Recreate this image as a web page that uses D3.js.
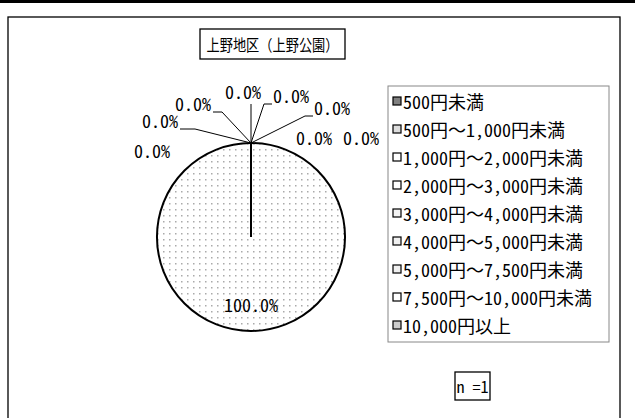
<!DOCTYPE html>
<html>
<head>
<meta charset="utf-8">
<script src="https://cdn.jsdelivr.net/npm/d3@7"></script>
<style>
  body { margin: 0; background: #fff; }
  text { font-family: 'Noto Sans Mono CJK JP', 'Noto Sans CJK JP', sans-serif; fill: #000; }
</style>
</head>
<body>
<div id="chart"></div>
<script>
var width = 635;
var height = 418;

// data
var title = '上野地区（上野公園）';
var categories = ['500円未満', '500円～1,000円未満', '1,000円～2,000円未満', '2,000円～3,000円未満',
  '3,000円～4,000円未満', '4,000円～5,000円未満', '5,000円～7,500円未満', '7,500円～10,000円未満', '10,000円以上'];
var counts = [0, 1, 0, 0, 0, 0, 0, 0, 0];
var sampleLabel = 'n =1';

// label placement around the pie (offset of label centre from pie centre, leader line or not)
var labelLayout = [
  { dx: 40, dy: -142, leader: true },
  { dx: 0, dy: 67, leader: false },
  { dx: 81, dy: -130, leader: true },
  { dx: 63, dy: -100, leader: false },
  { dx: 110, dy: -100, leader: false },
  { dx: -99, dy: -87, leader: false },
  { dx: -91, dy: -117, leader: true },
  { dx: -58, dy: -134, leader: true },
  { dx: -8, dy: -146, leader: true }
];

var cx = 251, cy = 237, radius = 94;
var labelSize = 18;
var legendSize = 18;

var svg = d3.select('#chart')
  .append('svg')
  .attr('width', width)
  .attr('height', height)

var defs = svg.append('defs');
var dots = defs.append('pattern')
  .attr('id', 'dots')
  .attr('patternUnits', 'userSpaceOnUse')
  .attr('width', 6)
  .attr('height', 6)
dots.append('rect').attr('width', 6).attr('height', 6).attr('fill', '#fff')
dots.append('rect').attr('x', 2).attr('y', 2).attr('width', 1.5).attr('height', 1.5).attr('fill', '#aaa')

var swatchFills = ['#808080', '#dddddd', '#fff', '#fff', '#f4f4f4', '#f0f0f0', '#f0f0f0', '#fff', '#cccccc'];

// top rule and outer frame
svg.append('rect')
  .attr('x', 0).attr('y', 0).attr('width', width).attr('height', 3)
  .attr('fill', '#000')

svg.append('rect')
  .attr('x', 8).attr('y', 17).attr('width', 612).attr('height', 420)
  .attr('fill', 'none')
  .attr('stroke', '#000')
  .attr('stroke-width', 1.3)

// title box
svg.append('rect')
  .attr('x', 200).attr('y', 29)
  .attr('width', 145).attr('height', 30)
  .attr('fill', '#fff')
  .attr('stroke', '#000')
  .attr('stroke-width', 1.3)

svg.append('text')
  .attr('x', 272.5)
  .attr('y', 44)
  .attr('text-anchor', 'middle')
  .attr('dominant-baseline', 'central')
  .attr('font-size', 15.5)
  .attr('textLength', 132)
  .attr('lengthAdjust', 'spacingAndGlyphs')
  .text(title)

// pie
var pie = d3.pie().sort(null).value(function (d) { return d; });
var arcs = pie(counts);
var total = d3.sum(counts);
var arc = d3.arc().innerRadius(0).outerRadius(radius);
var fmt = function (v) { return d3.format('.1f')(v / total * 100) + '%'; };

var pieG = svg.append('g').attr('transform', 'translate(' + cx + ',' + cy + ')');

pieG.selectAll('path')
  .data(arcs)
  .enter()
  .append('path')
  .attr('d', arc)
  .attr('fill', function (d) { return d.value > 0 ? 'url(#dots)' : 'none'; })
  .attr('stroke', '#000')
  .attr('stroke-width', 2)

var labels = pieG.selectAll('.pie-label')
  .data(arcs)
  .enter()
  .append('text')
  .attr('class', 'pie-label')
  .attr('x', function (d, i) { return labelLayout[i].dx; })
  .attr('y', function (d, i) { return labelLayout[i].dy; })
  .attr('text-anchor', 'middle')
  .attr('dominant-baseline', 'central')
  .attr('font-size', labelSize)
  .text(function (d) { return fmt(d.value); })

// leader lines from label to the slice edge
labels.each(function (d, i) {
  var lay = labelLayout[i];
  if (!lay.leader) return;
  var b = this.getBBox();
  var a = d.startAngle;
  var px = radius * Math.sin(a), py = -radius * Math.cos(a);
  var yy = b.y + b.height - 4;
  var pts;
  if (Math.abs(lay.dx - px) < 12) {
    pts = [[px, b.y + b.height], [px, py]];
  } else if (lay.dx > px) {
    pts = [[b.x - 1, yy], [b.x - 9, yy], [px, py]];
  } else {
    pts = [[b.x + b.width + 2, yy], [b.x + b.width + 2 + (lay.dx < -80 ? 15 : 9), yy], [px, py]];
  }
  pieG.append('path')
    .attr('d', d3.line()(pts))
    .attr('fill', 'none')
    .attr('stroke', '#000')
    .attr('stroke-width', 1)
})

// legend
var legendX = 388, legendY = 86, legendW = 221, legendH = 256;
var rowY = d3.scalePoint().domain(categories).range([101, 325]);

svg.append('rect')
  .attr('x', legendX).attr('y', legendY)
  .attr('width', legendW).attr('height', legendH)
  .attr('fill', '#fff')
  .attr('stroke', '#888')
  .attr('stroke-width', 1)

var items = svg.selectAll('.legend-item')
  .data(categories)
  .enter()
  .append('g')
  .attr('class', 'legend-item')
  .attr('transform', function (d) { return 'translate(' + (legendX + 5) + ',' + rowY(d) + ')'; })

items.append('rect')
  .attr('x', 0).attr('y', -4)
  .attr('width', 8).attr('height', 8)
  .attr('fill', function (d, i) { return swatchFills[i]; })
  .attr('stroke', '#000')
  .attr('stroke-width', 1.2)

items.append('text')
  .attr('x', 10)
  .attr('y', 0)
  .attr('dominant-baseline', 'central')
  .attr('font-size', legendSize)
  .text(function (d) { return d; })

// sample size box
svg.append('rect')
  .attr('x', 455).attr('y', 372)
  .attr('width', 35).attr('height', 28)
  .attr('fill', 'none')
  .attr('stroke', '#000')
  .attr('stroke-width', 1.3)

svg.append('text')
  .attr('x', 472.5)
  .attr('y', 386)
  .attr('text-anchor', 'middle')
  .attr('dominant-baseline', 'central')
  .attr('font-size', 16)
  .text(sampleLabel)
</script>
</body>
</html>
